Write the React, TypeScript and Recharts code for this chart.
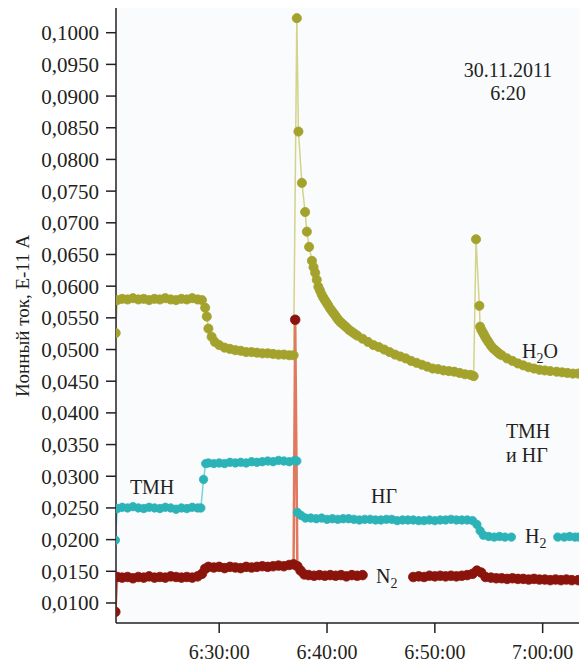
import { CartesianGrid, Line, LineChart, XAxis, YAxis } from 'recharts';

// time in minutes after 6:00, ion current in units of E-11 A
const h2oMin = [
  20.4, 20.55, 21, 21.5, 22, 22.5, 23, 23.5, 24, 24.5, 25, 25.5, 26, 26.5, 27, 27.5, 28, 28.4, 28.7, 28.85,
  29, 29.3, 29.6, 30, 30.5, 31, 31.5, 32, 32.5, 33, 33.5, 34, 34.5, 35, 35.5, 36, 36.5, 36.9, 37.2, 37.35,
  37.67, 37.97, 38.13, 38.34, 38.6, 38.75, 38.9, 39.05, 39.2, 39.35, 39.5, 39.65, 39.8, 39.95, 40.1, 40.27,
  40.45, 40.62, 40.8, 40.95, 41.1, 41.25, 41.4, 41.6, 41.8, 42.05, 42.3, 42.55, 42.8, 43.3, 43.8, 44.3, 44.8,
  45.3, 45.8, 46.3, 46.8, 47.3, 47.8, 48.3, 48.8, 49.3, 49.8, 50.3, 50.8, 51.3, 51.8, 52.3, 52.8, 53.3, 53.6,
  53.82, 54.13, 54.2, 54.32, 54.45, 54.58, 54.7, 54.85, 55, 55.2, 55.4, 55.6, 55.8, 56, 56.2, 56.7, 57.2,
  57.7, 58.2, 58.7, 59.2, 59.7, 60.2, 60.7, 61.3, 61.8, 62.3, 62.8, 63.3,
];
const h2oIon = [
  0.0526, 0.0578, 0.058, 0.0579, 0.0581, 0.0579, 0.058, 0.0578, 0.058, 0.0579, 0.0581, 0.0579, 0.0578, 0.058,
  0.0579, 0.0581, 0.0579, 0.0578, 0.0566, 0.0552, 0.0533, 0.052, 0.0512, 0.0507, 0.0503, 0.0501, 0.0499, 0.0498,
  0.0496, 0.0496, 0.0495, 0.0494, 0.0494, 0.0493, 0.0492, 0.0492, 0.0491, 0.0491, 0.1023, 0.0844, 0.0763,
  0.0717, 0.0686, 0.0662, 0.064, 0.063, 0.0621, 0.061, 0.0599, 0.0593, 0.0587, 0.0582, 0.0578, 0.0574,
  0.057, 0.0565, 0.0561, 0.0557, 0.0553, 0.0549, 0.0546, 0.0543, 0.0541, 0.0538, 0.0535, 0.0531, 0.0528,
  0.0525, 0.0522, 0.0517, 0.0512, 0.0507, 0.0504, 0.05, 0.0496, 0.0492, 0.0489, 0.0486, 0.0482, 0.0479,
  0.0476, 0.0473, 0.047, 0.0469, 0.0467, 0.0466, 0.0465, 0.0463, 0.0461, 0.046, 0.0458, 0.0674, 0.0569,
  0.0536, 0.0531, 0.0527, 0.0523, 0.0519, 0.0515, 0.0511, 0.0506, 0.0502, 0.0499, 0.0496, 0.0493, 0.0491,
  0.0486, 0.0482, 0.0478, 0.0475, 0.0472, 0.047, 0.0468, 0.0467, 0.0466, 0.0465, 0.0464, 0.0463, 0.0462,
  0.0462,
];

const h2Min = [
  20.37, 20.55, 21, 21.5, 22, 22.5, 23, 23.5, 24, 24.5, 25, 25.5, 26, 26.5, 27, 27.5, 28, 28.3, 28.55, 28.75,
  29, 29.5, 30, 30.5, 31, 31.5, 32, 32.5, 33, 33.5, 34, 34.5, 35, 35.5, 36, 36.5, 37, 37.2, 37.25, 37.6,
  38, 38.5, 39, 39.5, 40, 40.5, 41, 41.5, 42, 42.5, 43, 43.5, 44, 44.5, 45, 45.5, 46, 46.5, 47, 47.5, 48,
  48.5, 49, 49.5, 50, 50.5, 51, 51.5, 52, 52.5, 53, 53.5, 53.9, 54.2, 54.5, 55, 55.5, 56, 56.5, 57.1, 57.5,
  61.4, 62, 62.5, 63, 63.37,
];
const h2Ion = [
  0.0199, 0.0249, 0.0251, 0.025, 0.0252, 0.025, 0.0249, 0.0251, 0.025, 0.0249, 0.0251, 0.025, 0.0248, 0.025,
  0.0249, 0.0251, 0.025, 0.025, 0.0295, 0.032, 0.0321, 0.032, 0.0321, 0.032, 0.0322, 0.0321, 0.0322, 0.0321,
  0.0323, 0.0322, 0.0323, 0.0324, 0.0323, 0.0325, 0.0324, 0.0323, 0.0325, 0.0324, 0.0243, 0.0238, 0.0234,
  0.0234, 0.0233, 0.0234, 0.0232, 0.0233, 0.0232, 0.0233, 0.0233, 0.0232, 0.0231, 0.0232, 0.0232, 0.0231,
  0.0231, 0.0232, 0.0232, 0.023, 0.0231, 0.0231, 0.0231, 0.023, 0.023, 0.0231, 0.023, 0.0231, 0.0231, 0.0232,
  0.0231, 0.0231, 0.0231, 0.023, 0.0224, 0.0214, 0.0207, 0.0205, 0.0204, 0.0205, 0.0204, 0.0204, null,
  0.0204, 0.0204, 0.0205, 0.0204, 0.0204,
];

const n2Min = [
  20.37, 20.55, 21, 21.5, 22, 22.5, 23, 23.5, 24, 24.5, 25, 25.5, 26, 26.5, 27, 27.5, 28, 28.4, 28.7, 29,
  29.5, 30, 30.5, 31, 31.5, 32, 32.5, 33, 33.5, 34, 34.5, 35, 35.5, 36, 36.5, 36.9, 37.05, 37.25, 37.55,
  37.9, 38.3, 38.8, 39.3, 39.8, 40.3, 40.8, 41.3, 41.8, 42.3, 42.8, 43.3, 43.6, 48, 48.5, 49, 49.5, 50,
  50.5, 51, 51.5, 52, 52.5, 53, 53.5, 53.9, 54.3, 54.7, 55.2, 55.7, 56.2, 56.7, 57.2, 57.7, 58.2, 58.7, 59.2,
  59.7, 60.2, 60.7, 61.2, 61.7, 62.2, 62.7, 63.3,
];
const n2Ion = [
  0.0086, 0.0141, 0.014, 0.0141, 0.0139, 0.0141, 0.014, 0.0142, 0.014, 0.0141, 0.014, 0.0142, 0.0141, 0.014,
  0.0141, 0.014, 0.0142, 0.0146, 0.0154, 0.0157, 0.0156, 0.0157, 0.0155, 0.0157, 0.0156, 0.0155, 0.0157,
  0.0156, 0.0157, 0.0158, 0.0157, 0.0158, 0.0159, 0.0158, 0.016, 0.0161, 0.0547, 0.0158, 0.0151, 0.0145,
  0.0144, 0.0143, 0.0144, 0.0143, 0.0144, 0.0143, 0.0144, 0.0142, 0.0144, 0.0143, 0.0144, null, 0.0141,
  0.0142, 0.0141, 0.0143, 0.0142, 0.0143, 0.0142, 0.0143, 0.0142, 0.0143, 0.0144, 0.0146, 0.0151, 0.0148,
  0.0141, 0.014, 0.0139, 0.0139, 0.0138, 0.0139, 0.0138, 0.0138, 0.0137, 0.0138, 0.0137, 0.0137, 0.0136,
  0.0137, 0.0136, 0.0137, 0.0136, 0.0136,
];

const xTicks = [30, 40, 50, 60];
const yTicks = [
  0.01, 0.015, 0.02, 0.025, 0.03, 0.035, 0.04, 0.045, 0.05, 0.055, 0.06, 0.065, 0.07, 0.075, 0.08, 0.085,
  0.09, 0.095, 0.1,
];

const toPoints = (mins: number[], ions: (number | null)[]) => mins.map((m, i) => ({ m, v: ions[i] }));
const fmtTime = (m: number) => `${6 + Math.floor(m / 60)}:${String(m % 60).padStart(2, '0')}:00`;
const fmtIon = (v: number) => v.toFixed(4).replace('.', ',');

const serif = '"Liberation Serif", "DejaVu Serif", serif';
const ink = '#231f20';

export default function App() {
  return (
    <div style={{ position: 'absolute', left: 0, top: 0, width: 579, height: 668, background: '#fff' }}>
      <LineChart width={579} height={668} margin={{ top: 8, right: 0, bottom: 0, left: 0 }}>
        <CartesianGrid fill="#fafbfd" horizontal={false} vertical={false} />
        <XAxis
          type="number"
          dataKey="m"
          domain={[20.43, 63.37]}
          ticks={xTicks}
          interval={0}
          tickFormatter={fmtTime}
          allowDataOverflow
          height={45}
          tickSize={10}
          tickMargin={12}
          stroke={ink}
          strokeWidth={1.5}
          tick={{ fill: ink, fontSize: 20, fontFamily: serif }}
        />
        <YAxis
          type="number"
          domain={[0.00684, 0.1039]}
          ticks={yTicks}
          interval={0}
          tickFormatter={fmtIon}
          allowDataOverflow
          width={116}
          tickSize={10}
          tickMargin={7}
          stroke={ink}
          strokeWidth={1.5}
          tick={{ fill: ink, fontSize: 21, fontFamily: serif }}
        />
        <Line
          data={toPoints(h2oMin, h2oIon)}
          dataKey="v"
          stroke="#d3d38a"
          strokeWidth={1.5}
          dot={{ r: 4.6, fill: '#a3a22c', stroke: '#a3a22c', strokeWidth: 0.8 }}
          isAnimationActive={false}
        />
        <Line
          data={toPoints(h2Min, h2Ion)}
          dataKey="v"
          stroke="#7ad3d5"
          strokeWidth={1.5}
          dot={{ r: 4.2, fill: '#2bb3b7', stroke: '#2bb3b7', strokeWidth: 0.8 }}
          isAnimationActive={false}
        />
        <Line
          data={toPoints(n2Min, n2Ion)}
          dataKey="v"
          stroke="#e2785e"
          strokeWidth={2.5}
          dot={{ r: 4.8, fill: '#8a140b', stroke: '#8a140b', strokeWidth: 0.8 }}
          isAnimationActive={false}
        />
      </LineChart>
      <svg
        width={579}
        height={668}
        style={{ position: 'absolute', left: 0, top: 0, pointerEvents: 'none' }}
        fontFamily={serif}
        fill={ink}
        fontSize={20}
      >
        <text transform="translate(29, 316) rotate(-90)" textAnchor="middle" fontSize={19}>
          Ионный ток, Е-11 А
        </text>
        <text x={508} y={77} textAnchor="middle">30.11.2011</text>
        <text x={508} y={100} textAnchor="middle">6:20</text>
        <text x={130} y={494}>ТМН</text>
        <text x={371} y={503}>НГ</text>
        <text x={376} y={583}>
          N<tspan fontSize={14} dy={5}>2</tspan>
        </text>
        <text x={522} y={358}>
          H<tspan fontSize={14} dy={5}>2</tspan>
          <tspan dy={-5}>O</tspan>
        </text>
        <text x={506} y={438}>ТМН</text>
        <text x={506} y={462}>и НГ</text>
        <text x={525} y={543}>
          H<tspan fontSize={14} dy={5}>2</tspan>
        </text>
      </svg>
    </div>
  );
}
